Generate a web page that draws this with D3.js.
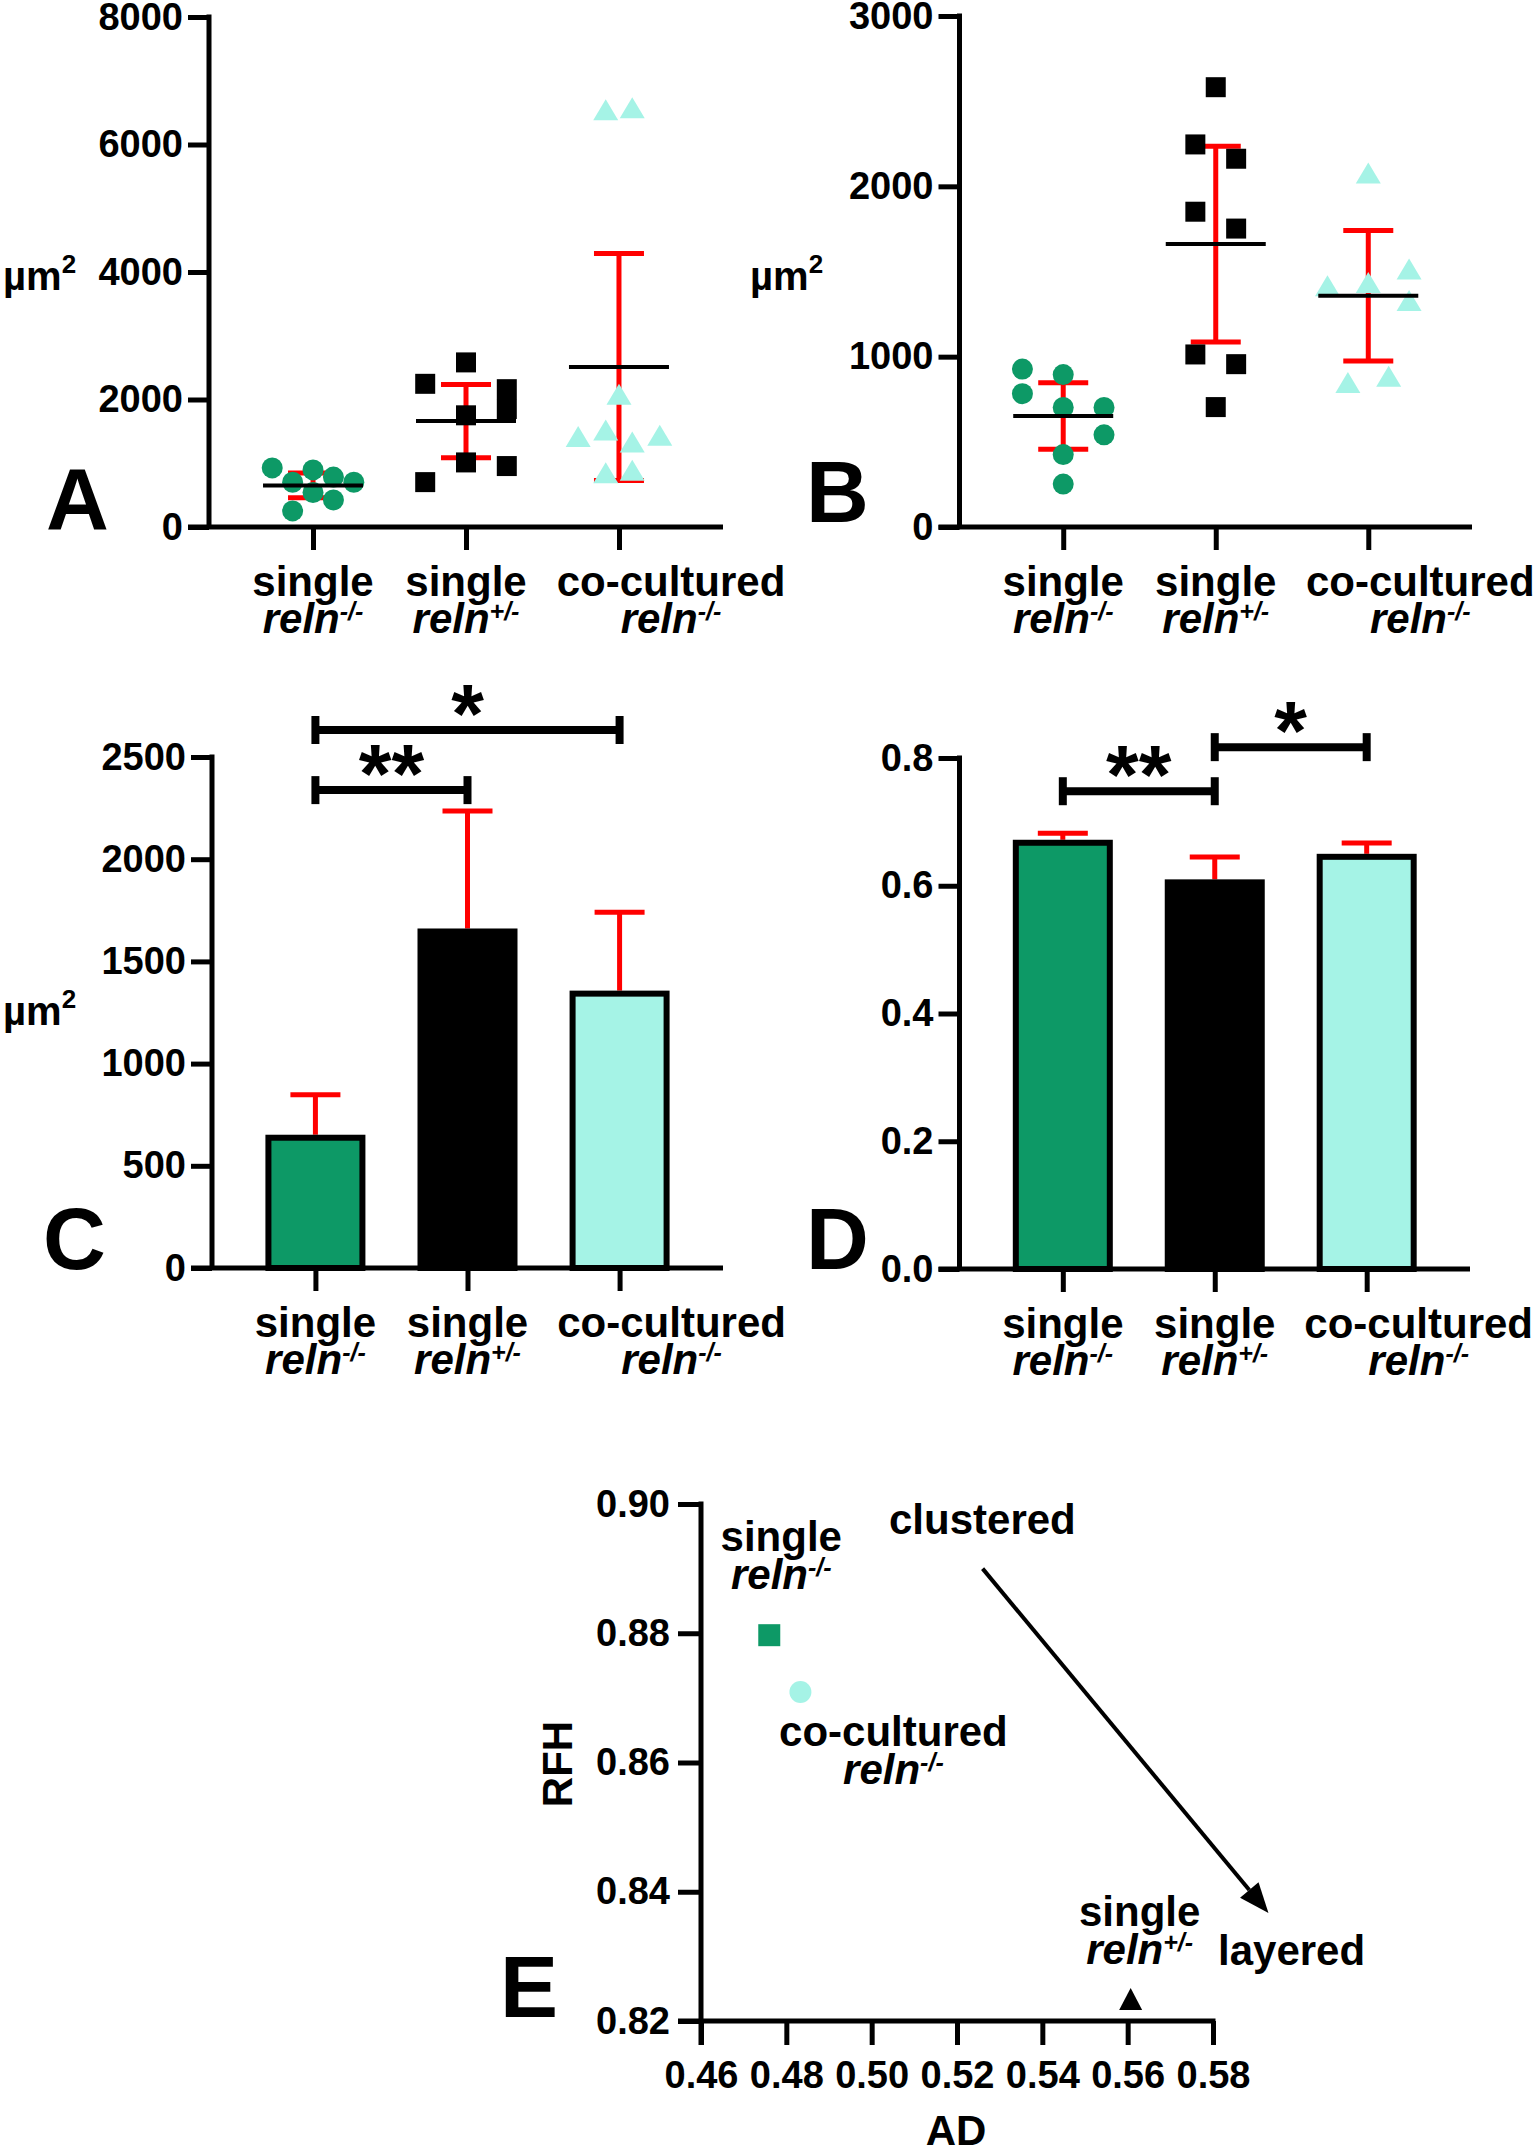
<!DOCTYPE html>
<html><head><meta charset="utf-8">
<script src="https://cdn.jsdelivr.net/npm/d3@7"></script>
<style>
body{margin:0;background:#fff}
svg{display:block}
text{font-family:"Liberation Sans",Arial,Helvetica,sans-serif;font-weight:bold;fill:#000}
</style>
</head><body>
<svg id="fig" width="1535" height="2153"></svg>
<script>
// ---------------- DATA ----------------
const catLine1 = ["single", "single", "co-cultured"];
const catGene = ["reln", "reln", "reln"];
const catSup = ["-/-", "+/-", "-/-"];

// individual values (µm²)
const singleKO = [927, 895, 783, 702, 702, 541, 425, 252];
const singleHet = [2582, 2246, 2162, 1851, 1752, 1013, 956, 704];
const coKO = [2076, 1413, 1433, 1512, 1327, 845, 882];
const coKOextraA = [6537, 6570];

// means and SD
const meanA = [652, 1661, 2511];
const sdA = [195, 575, 1780];
const meanB = [652, 1661, 1357];
const sdB = [195, 575, 383];
const meanC = [652, 1661, 1357];
const sdC = [195, 575, 383];
const meanD = [0.672, 0.610, 0.650];
const sdD = [0.010, 0.035, 0.017];

// tick values
const ticksA = [0, 2000, 4000, 6000, 8000];
const ticksB = [0, 1000, 2000, 3000];
const ticksC = [0, 500, 1000, 1500, 2000, 2500];
const ticksD = [0, 0.2, 0.4, 0.6, 0.8];

// significance: [from, to, label, bracket level]
const sigC = [[0, 1, "**", 2338], [0, 2, "*", 2632]];
const sigD = [[0, 1, "**", 0.748], [1, 2, "*", 0.817]];

// panel E
const eNames = ["single reln-/-", "co-cultured reln-/-", "single reln+/-"];
const eAD = [0.476, 0.4833, 0.5607];
const eRFH = [0.8797, 0.8709, 0.8234];
const eTicksX = [0.46, 0.48, 0.50, 0.52, 0.54, 0.56, 0.58];
const eTicksY = [0.82, 0.84, 0.86, 0.88, 0.90];
const eArrowFrom = [0.526, 0.890];
const eArrowTo = [0.593, 0.8367];

// jitter slots (layout, in marker units)
const jitA = [[-2, 0, 1, -1, 2, 0, 1, -1], [0, -2, 2, 2, 0, 0, 2, -2], [0, -2, 2, -0.65, 0.65, -0.65, 0.65, -0.65, 0.65]];
const jitB = [[-2, 0, -2, 0, 2, 2, 0, 0], [0, -1, 1, -1, 1, -1, 1, 0], [0, -2, 0, 2, 2, -1, 1]];

// ---------------- STYLE ----------------
const svg = d3.select("#fig");
const AXW = 5, TICK = 21, TICKFS = 38, LABFS = 42, LETFS = 87;
const GREEN = "#0d9966", CYAN = "#a5f3e6", RED = "#ff0000", BLACK = "#000";
const colors = [GREEN, BLACK, CYAN];
const JU = 20.4;

function yAxis(g, y, x0, ticks, fmt) {
  const ax = g.append("g").attr("transform", `translate(${x0},0)`)
    .call(d3.axisLeft(y).tickValues(ticks).tickSize(TICK).tickSizeOuter(0).tickPadding(5).tickFormat(fmt));
  ax.select(".domain").remove();
  ax.selectAll(".tick line").attr("stroke", BLACK).attr("stroke-width", AXW);
  ax.selectAll(".tick text").style("font-size", TICKFS + "px").attr("fill", BLACK);
  const d = y.domain();
  g.append("line").attr("x1", x0).attr("x2", x0).attr("y1", y(d[0])).attr("y2", y(d[1]) - AXW / 2)
    .attr("stroke", BLACK).attr("stroke-width", AXW);
}

function catLabels(g, x, y0) {
  catLine1.forEach((t, i) => {
    const cx = x(i) + (i === 2 ? 52 : 0);
    g.append("text").attr("x", cx).attr("y", y0 + 69).attr("text-anchor", "middle")
      .style("font-size", LABFS + "px").text(t);
    const t2 = g.append("text").attr("x", cx).attr("y", y0 + 106).attr("text-anchor", "middle")
      .style("font-size", LABFS + "px").style("font-style", "italic");
    t2.append("tspan").text(catGene[i]);
    t2.append("tspan").attr("dy", -13).style("font-size", "25px").text(catSup[i]);
  });
}

function catFrame(p) {
  const g = svg.append("g");
  const x = d3.scalePoint().domain([0, 1, 2]).range([p.left, p.right]).padding(0.68);
  const y = d3.scaleLinear().domain([0, p.max]).range([p.bottom, p.top]);
  g.append("line").attr("x1", p.left - TICK).attr("x2", p.right).attr("y1", y(0)).attr("y2", y(0))
    .attr("stroke", BLACK).attr("stroke-width", AXW);
  const xa = g.append("g").attr("transform", `translate(0,${y(0)})`)
    .call(d3.axisBottom(x).tickSize(23).tickSizeOuter(0).tickFormat(""));
  xa.select(".domain").remove();
  xa.selectAll(".tick line").attr("stroke", BLACK).attr("stroke-width", AXW);
  yAxis(g, y, p.left, p.ticks, p.fmt);
  catLabels(g, x, y(0));
  g.append("text").attr("x", p.letterX).attr("y", p.letterY).style("font-size", LETFS + "px").text(p.letter);
  if (p.unit) {
    const u = g.append("text").attr("x", p.unitX).attr("y", p.unitY).style("font-size", "40px");
    u.append("tspan").text("µm");
    u.append("tspan").attr("dy", -17).style("font-size", "26px").text("2");
  }
  return {g, x, y};
}

function symPath(shape) {
  if (shape === 0) return d3.symbol(d3.symbolCircle, Math.PI * 10.5 * 10.5)();
  if (shape === 1) return "M-10,-10H10V10H-10Z";
  return "M0,-11L12.5,10L-12.5,10Z";
}

function scatterPanel(p, groups, jit, means, sds) {
  const {g, x, y} = catFrame(p);
  means.forEach((m, i) => {
    const cx = x(i);
    g.append("line").attr("x1", cx).attr("x2", cx).attr("y1", y(m - sds[i])).attr("y2", y(m + sds[i]))
      .attr("stroke", RED).attr("stroke-width", 5);
    [m - sds[i], m + sds[i]].forEach(v => g.append("line").attr("x1", cx - 25).attr("x2", cx + 25)
      .attr("y1", y(v)).attr("y2", y(v)).attr("stroke", RED).attr("stroke-width", 5));
  });
  groups.forEach((vals, i) => {
    g.selectAll(null).data(vals).enter().append("path")
      .attr("d", symPath(i))
      .attr("transform", (d, k) => `translate(${x(i) + jit[i][k] * JU},${y(d)})`)
      .attr("fill", colors[i]);
  });
  means.forEach((m, i) => {
    const cx = x(i);
    g.append("line").attr("x1", cx - 50).attr("x2", cx + 50).attr("y1", y(m)).attr("y2", y(m))
      .attr("stroke", BLACK).attr("stroke-width", 4);
  });
}

function barPanel(p, means, sds, sig) {
  const {g, x, y} = catFrame(p);
  means.forEach((m, i) => {
    const cx = x(i);
    g.append("line").attr("x1", cx).attr("x2", cx).attr("y1", y(m)).attr("y2", y(m + sds[i]))
      .attr("stroke", RED).attr("stroke-width", 5);
    g.append("line").attr("x1", cx - 25).attr("x2", cx + 25).attr("y1", y(m + sds[i])).attr("y2", y(m + sds[i]))
      .attr("stroke", RED).attr("stroke-width", 5);
    g.append("rect").attr("x", cx - 47).attr("width", 94).attr("y", y(m) + 3).attr("height", y(0) - y(m) - 3)
      .attr("fill", colors[i]).attr("stroke", BLACK).attr("stroke-width", 6);
  });
  sig.forEach(([a, b, lab, lv]) => {
    const yy = y(lv);
    g.append("line").attr("x1", x(a)).attr("x2", x(b)).attr("y1", yy).attr("y2", yy)
      .attr("stroke", BLACK).attr("stroke-width", 8);
    [a, b].forEach(k => g.append("line").attr("x1", x(k)).attr("x2", x(k)).attr("y1", yy - 14).attr("y2", yy + 14)
      .attr("stroke", BLACK).attr("stroke-width", 8));
    g.append("text").attr("x", (x(a) + x(b)) / 2).attr("y", yy + 13).attr("text-anchor", "middle")
      .style("font-size", "84px").text(lab);
  });
}

scatterPanel({left: 209, right: 723, top: 17, bottom: 527, max: 8000, ticks: ticksA, fmt: d3.format("d"),
  letter: "A", letterX: 46, letterY: 529, unit: true, unitX: 3, unitY: 290},
  [singleKO, singleHet, coKO.concat(coKOextraA)], jitA, meanA, sdA);

scatterPanel({left: 959.5, right: 1472, top: 16, bottom: 527, max: 3000, ticks: ticksB, fmt: d3.format("d"),
  letter: "B", letterX: 806, letterY: 522, unit: true, unitX: 750, unitY: 290},
  [singleKO, singleHet, coKO], jitB, meanB, sdB);

barPanel({left: 212, right: 723, top: 757, bottom: 1268, max: 2500, ticks: ticksC, fmt: d3.format("d"),
  letter: "C", letterX: 43, letterY: 1269, unit: true, unitX: 3, unitY: 1025}, meanC, sdC, sigC);

barPanel({left: 959.5, right: 1470, top: 758, bottom: 1269, max: 0.8, ticks: ticksD, fmt: d3.format(".1f"),
  letter: "D", letterX: 806, letterY: 1269, unit: false}, meanD, sdD, sigD);

// Panel E
(function () {
  const g = svg.append("g");
  const x = d3.scaleLinear().domain([0.46, 0.58]).range([701, 1213]);
  const y = d3.scaleLinear().domain([0.82, 0.90]).range([2021, 1504]);
  g.append("line").attr("x1", x(0.46)).attr("x2", x(0.46)).attr("y1", y(0.82) + 24).attr("y2", y(0.90) - AXW / 2)
    .attr("stroke", BLACK).attr("stroke-width", AXW);
  g.append("line").attr("x1", x(0.46) - 23).attr("x2", x(0.58) + AXW / 2).attr("y1", y(0.82)).attr("y2", y(0.82))
    .attr("stroke", BLACK).attr("stroke-width", AXW);
  const ya = g.append("g").attr("transform", `translate(${x(0.46)},0)`)
    .call(d3.axisLeft(y).tickValues(eTicksY).tickSize(23).tickPadding(8).tickFormat(d3.format(".2f")));
  ya.select(".domain").remove();
  ya.selectAll(".tick line").attr("stroke", BLACK).attr("stroke-width", AXW);
  ya.selectAll(".tick text").style("font-size", TICKFS + "px").attr("fill", BLACK);
  const xa = g.append("g").attr("transform", `translate(0,${y(0.82)})`)
    .call(d3.axisBottom(x).tickValues(eTicksX).tickSize(24).tickPadding(16).tickFormat(d3.format(".2f")));
  xa.select(".domain").remove();
  xa.selectAll(".tick line").attr("stroke", BLACK).attr("stroke-width", AXW);
  xa.selectAll(".tick text").style("font-size", TICKFS + "px").attr("fill", BLACK);
  g.append("text").attr("transform", `translate(557,1764) rotate(-90)`).attr("text-anchor", "middle")
    .attr("dy", "0.35em").style("font-size", "42px").text("RFH");
  g.append("text").attr("x", 956).attr("y", 2145).attr("text-anchor", "middle").style("font-size", "42px").text("AD");
  g.append("text").attr("x", 500).attr("y", 2017).style("font-size", LETFS + "px").text("E");
  const eShapes = [1, 0, 2];
  const eCols = [GREEN, CYAN, BLACK];
  eAD.forEach((v, i) => {
    const s = eShapes[i];
    const d = s === 1 ? "M-11,-11H11V11H-11Z" : s === 0 ? d3.symbol(d3.symbolCircle, Math.PI * 11 * 11)() : "M0,-11L11.5,11L-11.5,11Z";
    g.append("path").attr("d", d).attr("transform", `translate(${x(v)},${y(eRFH[i])})`).attr("fill", eCols[i]);
  });
  function twoLine(cx, by, l1, gene, sup) {
    g.append("text").attr("x", cx).attr("y", by).attr("text-anchor", "middle").style("font-size", "42px").text(l1);
    const t = g.append("text").attr("x", cx).attr("y", by + 38).attr("text-anchor", "middle")
      .style("font-size", "42px").style("font-style", "italic");
    t.append("tspan").text(gene);
    t.append("tspan").attr("dy", -13).style("font-size", "25px").text(sup);
  }
  twoLine(x(eAD[0]) + 12, y(eRFH[0]) - 84, "single", "reln", "-/-");
  twoLine(x(eAD[1]) + 93, y(eRFH[1]) + 54, "co-cultured", "reln", "-/-");
  twoLine(x(eAD[2]) + 9, y(eRFH[2]) - 73, "single", "reln", "+/-");
  g.append("text").attr("x", 889).attr("y", 1534).style("font-size", "42px").text("clustered");
  g.append("text").attr("x", 1218).attr("y", 1965).style("font-size", "42px").text("layered");
  const x1 = x(eArrowFrom[0]), y1 = y(eArrowFrom[1]), x2 = x(eArrowTo[0]), y2 = y(eArrowTo[1]);
  const ang = Math.atan2(y2 - y1, x2 - x1), hl = 30, hw = 12;
  const bx = x2 - hl * Math.cos(ang), by = y2 - hl * Math.sin(ang);
  g.append("line").attr("x1", x1).attr("y1", y1).attr("x2", bx).attr("y2", by).attr("stroke", BLACK).attr("stroke-width", 4);
  g.append("path").attr("d", `M${x2},${y2}L${bx + hw * Math.sin(ang)},${by - hw * Math.cos(ang)}L${bx - hw * Math.sin(ang)},${by + hw * Math.cos(ang)}Z`)
    .attr("fill", BLACK);
})();
</script>
</body></html>
